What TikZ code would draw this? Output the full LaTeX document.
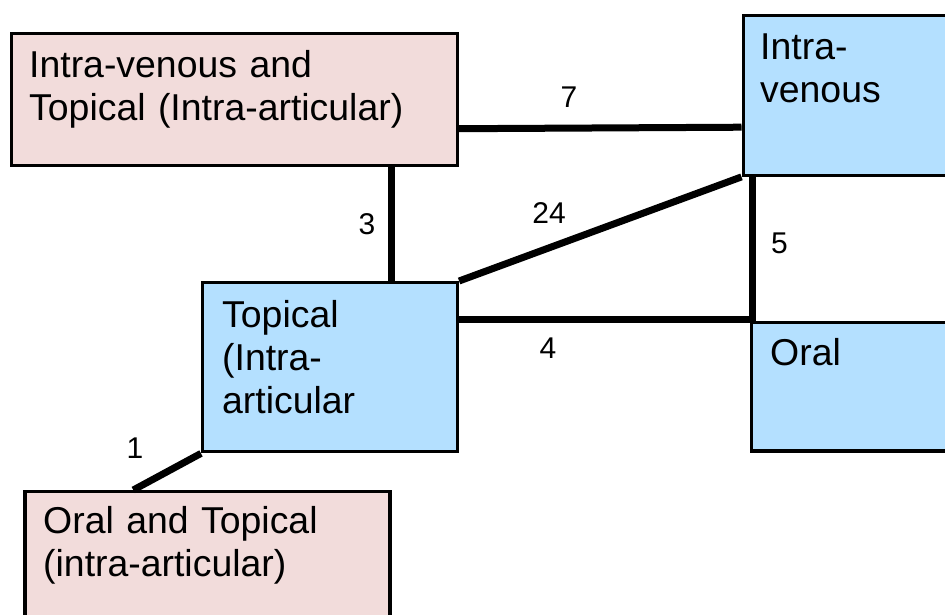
\documentclass[tikz,border=0pt]{standalone}
\usepackage{fontspec}
\setmainfont{Liberation Sans}
\usetikzlibrary{calc}
\definecolor{pinkfill}{HTML}{F2DCDB}
\definecolor{bluefill}{HTML}{B4E0FF}
\tikzset{
  box/.style={draw=black, line width=3.4pt, anchor=north west, inner sep=0pt},
  pinkbox/.style={box, fill=pinkfill},
  bluebox/.style={box, fill=bluefill},
  boxtext/.style={anchor=base west, inner sep=0pt, align=left,
    font=\fontsize{37.4}{43}\selectfont},
  conn/.style={draw=black, line width=7pt},
  num/.style={inner sep=0pt, font=\fontsize{30}{36}\selectfont}
}
\begin{document}
\begin{tikzpicture}[x=1pt,y=-1pt]
\useasboundingbox (0,0) rectangle (945,614);
% boxes
\node[pinkbox, minimum width=445.5pt, minimum height=132pt] (A) at (10,31.5) {};
\node[bluebox, minimum width=240pt, minimum height=160pt] (B) at (741.5,13.5) {};
\node[bluebox, minimum width=254.7pt, minimum height=169pt] (C) at (201,281) {};
\node[bluebox, minimum width=220pt, minimum height=128.6pt] (D) at (750,320.7) {};
\node[pinkbox, minimum width=365pt, minimum height=160pt] (E) at (23.3,490) {};
% connectors
\coordinate (ac) at ([xshift=157.25pt]A.south);
\coordinate (bd) at ([xshift=2pt]D.north west);
\coordinate (cd) at ([yshift=1.7pt]D.north west);
\coordinate (ce) at ([xshift=110pt]E.north west);
\draw[conn] ([yshift=-29.5pt]A.east) -- ([yshift=-32pt]B.west);
\draw[conn] (ac) -- (ac |- C.north);
\draw[conn] (C.north east) -- (B.south west);
\draw[conn] (bd |- B.south) -- (bd);
\draw[conn] (C.east |- cd) -- (cd);
\draw[conn] (C.south west) -- (ce);
% texts
\node[boxtext, text width=420pt] (At) at (29,77.3) {Intra-venous and\\Topical (Intra-articular)};
\node[boxtext, text width=180pt] (Bt) at (760,59) {Intra-\\venous};
\node[boxtext, text width=230pt] (Ct) at (222,327) {Topical\\(Intra-\\articular};
\node[boxtext, text width=170pt] (Dt) at (770,365) {Oral};
\node[boxtext, text width=340pt] (Et) at (43,533.5) {Oral and Topical\\(intra-articular)};
% labels
\node[num] (n7) at (569,97.5) {7};
\node[num] (n3) at (367,224) {3};
\node[num] (n24) at (549,213.5) {24};
\node[num] (n5) at (779.5,243) {5};
\node[num] (n4) at (548,348) {4};
\node[num] (n1) at (135,448) {1};
\end{tikzpicture}
\end{document}
